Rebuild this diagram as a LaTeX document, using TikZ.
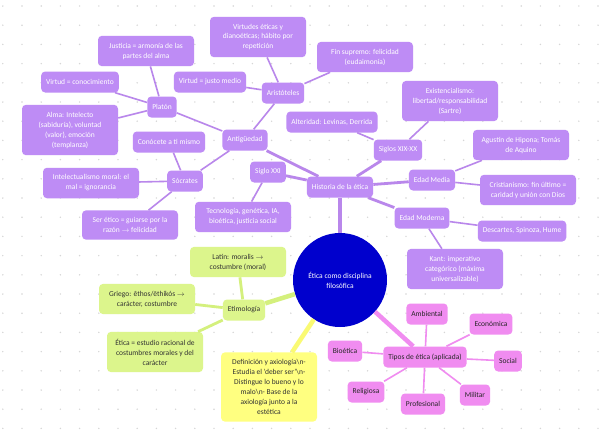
\documentclass[tikz,border=0pt]{standalone}
\usepackage{fontspec}
\setmainfont{Carlito}
\definecolor{purp}{RGB}{190,140,245}
\definecolor{purpline}{RGB}{185,135,235}
\definecolor{lime}{RGB}{220,245,140}
\definecolor{limeline}{RGB}{212,240,125}
\definecolor{yel}{RGB}{255,255,128}
\definecolor{yelline}{RGB}{250,250,115}
\definecolor{pinkb}{RGB}{240,140,240}
\definecolor{deepblue}{RGB}{0,0,205}
\definecolor{dotgray}{RGB}{214,214,214}
\begin{document}
\begin{tikzpicture}[x=1pt, y=-1pt,
    box/.style={rounded corners=4pt, inner xsep=5pt, inner ysep=7pt, minimum height=21pt, align=center, font=\fontsize{7.5}{10}\selectfont},
    hbox/.style={box, fill=purp, text=white},
    ebox/.style={box, fill=lime, text=black!80},
    dbox/.style={box, fill=yel, text=black!80},
    tbox/.style={box, fill=pinkb, text=black!85},
    wide/.style={minimum width=96pt},
    trunk/.style={line width=4.5pt},
    branch/.style={line width=2.8pt},
    twig/.style={line width=1.6pt}]

    \fill[white] (0,0) rectangle (600,439);
    \useasboundingbox (0,0) rectangle (600,439);
    \foreach \i in {0,...,31}
        \foreach \j in {0,...,22}
            \fill[dotgray] (2.8+19.2*\i, 6+19.2*\j) circle (0.8);

    \node[circle, fill=deepblue, text=white, minimum size=94pt, inner sep=0pt, align=center, font=\fontsize{7.5}{10}\selectfont] (main) at (340,280) {Ética como disciplina\\filosófica};

    % historia
    \node[hbox] (hist) at (340,187) {Historia de la ética};
    \node[hbox] (anti) at (245,140) {Antigüedad};
    \node[hbox] (plat) at (162,107) {Platón};
    \node[hbox] (arist) at (283,93) {Aristóteles};
    \node[hbox] (socr) at (185,181) {Sócrates};
    \node[hbox, wide] (just) at (146,51) {Justicia = armonía de las\\partes del alma};
    \node[hbox] (vconoc) at (80,82) {Virtud = conocimiento};
    \node[hbox, wide] (alma) at (70,130) {Alma: Intelecto\\(sabiduría), voluntad\\(valor), emoción\\(templanza)};
    \node[hbox] (cono) at (169,142) {Conócete a ti mismo};
    \node[hbox] (vmedio) at (210,82) {Virtud = justo medio};
    \node[hbox, wide] (virt) at (258,37) {Virtudes éticas y\\dianoéticas; hábito por\\repetición};
    \node[hbox, wide] (fin) at (365,57) {Fin supremo: felicidad\\(eudaimonía)};
    \node[hbox] (alter) at (332,122) {Alteridad: Levinas, Derrida};
    \node[hbox] (sxx) at (398,150) {Siglos XIX-XX};
    \node[hbox, wide] (exist) at (450,101) {Existencialismo:\\libertad/responsabilidad\\(Sartre)};
    \node[hbox, wide] (agus) at (521,145) {Agustín de Hipona; Tomás\\de Aquino};
    \node[hbox] (media) at (432,180) {Edad Media};
    \node[hbox, wide] (crist) at (528,190) {Cristianismo: fin último =\\caridad y unión con Dios};
    \node[hbox] (moder) at (422,218) {Edad Moderna};
    \node[hbox] (desc) at (522,231) {Descartes, Spinoza, Hume};
    \node[hbox, wide] (kant) at (455,269) {Kant: imperativo\\categórico (máxima\\universalizable)};
    \node[hbox, wide] (intel) at (91,183) {Intelectualismo moral: el\\mal = ignorancia};
    \node[hbox, wide] (seret) at (130,225) {Ser ético = guiarse por la\\razón $\rightarrow$ felicidad};
    \node[hbox] (sxxi) at (268,172) {Siglo XXI};
    \node[hbox, wide] (tecno) at (243,217) {Tecnología, genética, IA,\\bioética, justicia social};

    % etimologia
    \node[ebox] (etim) at (244,310) {Etimología};
    \node[ebox, wide] (latin) at (238,262) {Latín: moralis $\rightarrow$\\costumbre (moral)};
    \node[ebox, wide] (griego) at (147,299) {Griego: êthos/ēthikós $\rightarrow$\\carácter, costumbre};
    \node[ebox, wide] (estud) at (155,352) {Ética = estudio racional de\\costumbres morales y del\\carácter};

    % definicion
    \node[dbox, wide] (defin) at (269,387) {Definición y axiología\textbackslash n-\\Estudia el 'deber ser'\textbackslash n-\\Distingue lo bueno y lo\\malo\textbackslash n- Base de la\\axiología junto a la\\estética};

    % tipos
    \node[tbox] (tipos) at (425,357) {Tipos de ética (aplicada)};
    \node[tbox] (amb) at (427,314) {Ambiental};
    \node[tbox] (econ) at (491,324) {Económica};
    \node[tbox] (soc) at (508,361) {Social};
    \node[tbox] (mil) at (475,395) {Militar};
    \node[tbox] (prof) at (423,404) {Profesional};
    \node[tbox] (rel) at (366,392) {Religiosa};
    \node[tbox] (bio) at (345,351) {Bioética};

    \draw[trunk, purpline] (main) -- (hist);
    \draw[trunk, limeline] (main) -- (etim);
    \draw[trunk, yelline] (main) -- (defin);
    \draw[trunk, pinkb] (main) -- (tipos);

    \draw[branch, purpline] (hist) -- (anti);
    \draw[branch, purpline] (hist) -- (sxx);
    \draw[branch, purpline] (hist) -- (media);
    \draw[branch, purpline] (hist) -- (moder);
    \draw[branch, purpline] (hist) -- (sxxi);
    \draw[twig, purpline] (anti) -- (plat);
    \draw[twig, purpline] (anti) -- (arist);
    \draw[twig, purpline] (anti) -- (socr);
    \draw[twig, purpline] (plat) -- (just);
    \draw[twig, purpline] (plat) -- (vconoc);
    \draw[twig, purpline] (plat) -- (alma);
    \draw[twig, purpline] (arist) -- (virt);
    \draw[twig, purpline] (arist) -- (vmedio);
    \draw[twig, purpline] (arist) -- (fin);
    \draw[twig, purpline] (socr) -- (cono);
    \draw[twig, purpline] (socr) -- (intel);
    \draw[twig, purpline] (socr) -- (seret);
    \draw[twig, purpline] (sxx) -- (alter);
    \draw[twig, purpline] (sxx) -- (exist);
    \draw[twig, purpline] (media) -- (agus);
    \draw[twig, purpline] (media) -- (crist);
    \draw[twig, purpline] (moder) -- (desc);
    \draw[twig, purpline] (moder) -- (kant);
    \draw[twig, purpline] (sxxi) -- (tecno);

    \draw[branch, limeline] (etim) -- (latin);
    \draw[branch, limeline] (etim) -- (griego);
    \draw[branch, limeline] (etim) -- (estud);

    \foreach \t in {amb, econ, soc, mil, prof, rel, bio}
        \draw[twig, pinkb] (tipos) -- (\t);
\end{tikzpicture}
\end{document}
